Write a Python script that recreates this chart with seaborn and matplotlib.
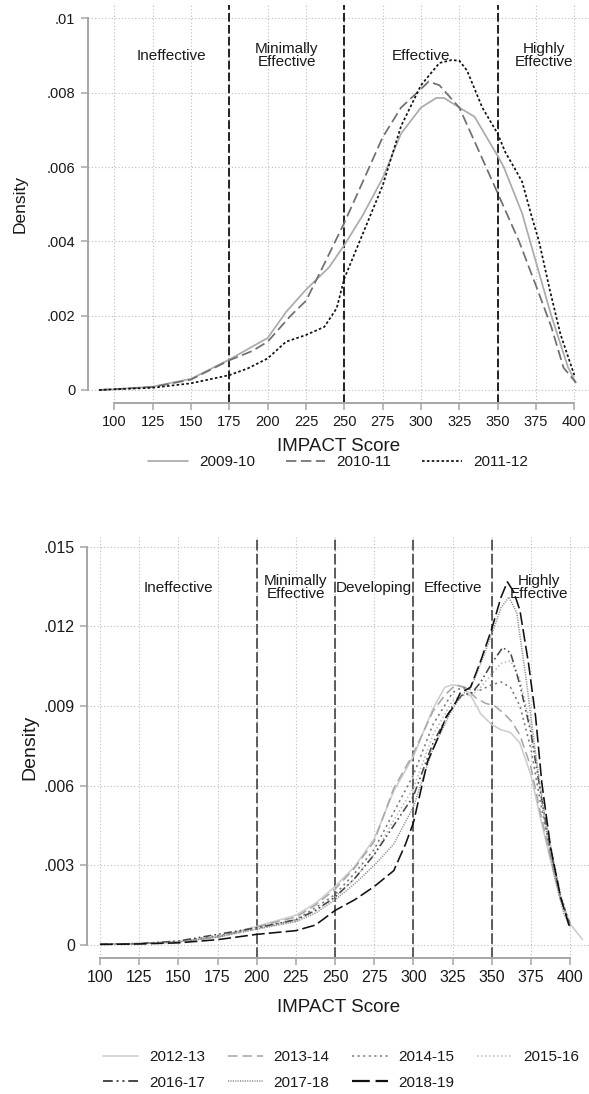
import numpy as np
import pandas as pd
import matplotlib
matplotlib.use("Agg")
import matplotlib.pyplot as plt
import seaborn as sns

# ---------------- data: top panel (2009-10 .. 2011-12) ----------------
top_years = ["2009-10", "2010-11", "2011-12"]
s_0910 = [90, 100, 125, 150, 175, 200, 212, 225, 240, 250, 262, 275, 287, 300, 310, 315, 325, 335, 350, 354, 366, 376, 385, 396, 401]
d_0910 = [0, .00002, .00009, .0003, .00082, .0014, .0021, .0027, .0033, .0039, .0047, .0057, .0069, .0076, .00786, .00786, .0076, .00735, .0063, .0060, .00475, .0033, .0020, .0006, .0002]
s_1011 = [90, 100, 125, 150, 175, 190, 200, 215, 225, 237, 250, 262, 275, 287, 300, 305, 312, 325, 337, 350, 364, 376, 385, 393, 401]
d_1011 = [0, .00002, .00008, .00028, .0008, .00105, .0013, .002, .0024, .0034, .0045, .0056, .0068, .0076, .0081, .0083, .0082, .0076, .0065, .0053, .0040, .0027, .0017, .0006, .0002]
s_1112 = [90, 100, 125, 150, 175, 187, 200, 212, 225, 237, 245, 250, 262, 275, 287, 300, 312, 320, 325, 330, 334, 340, 350, 355, 362, 366, 372, 377, 384, 391, 400]
d_1112 = [0, .00002, .00006, .00018, .0004, .00058, .00085, .0013, .00148, .0017, .0022, .003, .0042, .0055, .0071, .0082, .0088, .00888, .00886, .0086, .0082, .0076, .0069, .0064, .0059, .0056, .0047, .0040, .0027, .0015, .0004]

top_cuts = [175, 250, 350]
top_zone_labels = ["Ineffective", "Minimally\nEffective", "Effective", "Highly\nEffective"]
top_zone_x = [137.5, 212.5, 300, 380]
top_yticks = [0, .002, .004, .006, .008, .01]
top_ylabels = ["0", ".002", ".004", ".006", ".008", ".01"]

# ---------------- data: bottom panel (2012-13 .. 2018-19) ----------------
bot_years = ["2012-13", "2013-14", "2014-15", "2015-16", "2016-17", "2017-18", "2018-19"]
s_1213 = [100, 125, 150, 175, 200, 225, 237.5, 250, 262.5, 275, 287.5, 300, 312.5, 320, 325, 332, 337.5, 343, 350, 356, 362, 368, 375, 381, 387.5, 394, 400, 408]
d_1213 = [.00003, .00005, .00012, .0003, .0007, .00112, .00157, .0022, .00295, .0040, .0058, .0071, .0089, .0097, .0098, .0097, .0093, .0087, .0083, .0081, .0080, .0076, .0064, .0048, .0032, .0017, .0008, .0002]
s_1314 = [100, 125, 150, 175, 200, 225, 237.5, 250, 262.5, 275, 287.5, 300, 312.5, 320, 327, 333, 340, 346, 352, 358, 363, 368, 375, 381, 387.5, 394, 400]
d_1314 = [.00003, .00005, .00012, .0003, .00068, .00105, .0015, .0021, .0029, .0039, .0059, .0072, .0088, .0094, .0098, .0097, .0093, .0091, .0090, .0087, .0084, .0079, .0067, .0050, .0033, .0017, .0008]
s_1415 = [100, 125, 150, 175, 200, 225, 237.5, 250, 262.5, 275, 287.5, 300, 312.5, 325, 331, 337.5, 343, 350, 356, 362, 368, 375, 381, 387.5, 394, 400]
d_1415 = [.00003, .00005, .00013, .00035, .00062, .00095, .0014, .0019, .0027, .0036, .0050, .0064, .0083, .0095, .0097, .0096, .0096, .0098, .0099, .0097, .0090, .0074, .0054, .0035, .0018, .0008]
s_1516 = [100, 125, 150, 175, 200, 225, 237.5, 250, 262.5, 275, 287.5, 300, 312.5, 325, 331, 337.5, 343, 350, 356, 362, 368, 375, 381, 387.5, 394, 400]
d_1516 = [.00003, .00005, .00012, .0003, .0006, .0009, .0013, .0018, .0025, .0034, .0047, .0059, .0079, .0092, .0094, .0094, .0097, .0102, .0106, .0107, .0100, .0082, .0060, .0038, .0019, .0008]
s_1617 = [100, 125, 150, 175, 200, 225, 237.5, 250, 262.5, 275, 287.5, 300, 312.5, 325, 331, 337.5, 343, 350, 357, 362, 368, 375, 381, 387.5, 394, 400]
d_1617 = [.00003, .00005, .00015, .0004, .00065, .00095, .0013, .0018, .0025, .0034, .0045, .0056, .0076, .0090, .0094, .0095, .0099, .0106, .0112, .0110, .0098, .0080, .0058, .0036, .0018, .0007]
s_1718 = [100, 125, 150, 175, 200, 225, 237.5, 250, 262.5, 275, 287.5, 300, 312.5, 325, 331, 337.5, 343, 350, 356, 361, 366, 372, 378, 384, 390, 396, 400]
d_1718 = [.00003, .00005, .00012, .0003, .0006, .00088, .0012, .0017, .0023, .0030, .0038, .0052, .0074, .0089, .0094, .0098, .0106, .0117, .0127, .0131, .0125, .0100, .0072, .0046, .0026, .0012, .0007]
s_1819 = [100, 125, 150, 175, 200, 225, 237.5, 250, 262.5, 275, 287.5, 295, 300, 309, 315, 321, 326, 330, 336.5, 343, 350, 356, 360, 364, 368, 373.5, 378, 382, 387.5, 394, 400]
d_1819 = [.00002, .00004, .00008, .0002, .0004, .00054, .00075, .0013, .0017, .0022, .0028, .0038, .0046, .0069, .0077, .0086, .0090, .0095, .0097, .0107, .0119, .0131, .01367, .0133, .0126, .0106, .0086, .0061, .0037, .0018, .0006]

bot_cuts = [200, 250, 300, 350]
bot_zone_labels = ["Ineffective", "Minimally\nEffective", "Developing", "Effective", "Highly\nEffective"]
bot_zone_x = [150, 225, 275, 325, 380]
bot_yticks = [0, .003, .006, .009, .012, .015]
bot_ylabels = ["0", ".003", ".006", ".009", ".012", ".015"]

xticks = list(range(100, 401, 25))

# ---------------- frames ----------------
def frame(years, ss, ds):
    rows = []
    for y, s, d in zip(years, ss, ds):
        rows.append(pd.DataFrame({"year": y, "score": s, "density": d}))
    return pd.concat(rows, ignore_index=True)

df_top = frame(top_years, [s_0910, s_1011, s_1112], [d_0910, d_1011, d_1112])
df_bot = frame(bot_years, [s_1213, s_1314, s_1415, s_1516, s_1617, s_1718, s_1819],
               [d_1213, d_1314, d_1415, d_1516, d_1617, d_1718, d_1819])

# ---------------- style ----------------
sns.set_theme(style="white")
plt.rcParams["font.family"] = ["Liberation Sans", "DejaVu Sans"]
plt.rcParams["text.color"] = "#1a1a1a"

axis_col = "#a6a6a6"
grid_col = "#bdbdbd"

fig = plt.figure(figsize=(5.89, 10.94), dpi=100)
W, H = 589.0, 1094.0
ax1 = fig.add_axes([88 / W, 1 - 403 / H, (W - 88) / W, 398 / H])
ax2 = fig.add_axes([87.5 / W, 1 - 958 / H, (W - 87.5) / W, 421 / H])

top_pal = {"2009-10": "#ababab", "2010-11": "#6f6f6f", "2011-12": "#111111"}
top_dash = {"2009-10": "", "2010-11": (6, 2.6), "2011-12": (1.5, 1.3)}
bot_pal = {"2012-13": "#cdcdcd", "2013-14": "#a8a8a8", "2014-15": "#7a7a7a", "2015-16": "#b8b8b8",
           "2016-17": "#474747", "2017-18": "#8c8c8c", "2018-19": "#111111"}
bot_dash = {"2012-13": "", "2013-14": (6, 3), "2014-15": (1.3, 2.2), "2015-16": (0.9, 1.6),
            "2016-17": (5, 2, 1, 2, 1, 2), "2017-18": (0.7, 0.8), "2018-19": (8, 2.6)}

sns.lineplot(data=df_top, x="score", y="density", hue="year", style="year",
             hue_order=top_years, style_order=top_years, palette=top_pal, dashes=top_dash,
             estimator=None, sort=False, lw=1.25, ax=ax1, zorder=3)
sns.lineplot(data=df_bot, x="score", y="density", hue="year", style="year",
             hue_order=bot_years, style_order=bot_years, palette=bot_pal, dashes=bot_dash,
             estimator=None, sort=False, lw=1.15, ax=ax2, zorder=3)
for line in ax2.get_lines():
    if line.get_label() == "2018-19":
        line.set_linewidth(1.6)
    if line.get_label() == "2016-17":
        line.set_linewidth(1.4)


def style_axes(ax, xlim, ylim, yticks, ylabels, cuts, cut_style, cut_color, cut_lw,
               zone_x, zone_labels, zone_y, tick_fs, ylab_fs, xlab_pad, ylab_pad):
    ax.set_xlim(*xlim)
    ax.set_ylim(*ylim)
    ax.set_xticks(xticks)
    ax.set_xticklabels([str(t) for t in xticks])
    ax.set_yticks(yticks)
    ax.set_yticklabels(ylabels)
    ax.grid(True, color=grid_col, linestyle=(0, (1, 2)), linewidth=0.8)
    ax.set_axisbelow(True)
    for sp in ["top", "right"]:
        ax.spines[sp].set_visible(False)
    for sp in ["left", "bottom"]:
        ax.spines[sp].set_color(axis_col)
        ax.spines[sp].set_linewidth(1.4)
    ax.spines["left"].set_bounds(yticks[0], yticks[-1])
    ax.spines["bottom"].set_bounds(xticks[0], xticks[-1])
    ax.tick_params(axis="both", which="major", length=5, width=1.1, color=axis_col,
                   labelsize=tick_fs, labelcolor="#1a1a1a", direction="out",
                   left=True, bottom=True, pad=4)
    for c in cuts:
        ax.axvline(c, color=cut_color, linestyle=cut_style, lw=cut_lw, zorder=2)
    for x, lab in zip(zone_x, zone_labels):
        ax.text(x, zone_y, lab, ha="center", va="center", fontsize=11, linespacing=0.9,
                color="#1a1a1a", zorder=4)
    ax.set_xlabel("IMPACT Score", fontsize=13.5, labelpad=xlab_pad, color="#1a1a1a")
    ax.set_ylabel("Density", fontsize=ylab_fs, labelpad=ylab_pad, color="#1a1a1a")


style_axes(ax1, (82.8, 409.6), (-0.00035, 0.01036), top_yticks, top_ylabels, top_cuts,
           (0, (4.8, 1.8)), "#111111", 1.3, top_zone_x, top_zone_labels, 0.009, 10.5, 12.5, 6, 14)
style_axes(ax2, (92.0, 412.1), (-0.00049, 0.01536), bot_yticks, bot_ylabels, bot_cuts,
           (0, (7.0, 2.2)), "#333333", 1.1, bot_zone_x, bot_zone_labels, 0.01345, 11.5, 14, 10, 4)

# legends
h1, l1 = ax1.get_legend_handles_labels()
ax1.get_legend().remove()
fig.legend(h1, l1, loc="center", bbox_to_anchor=(338 / W, 1 - 462 / H), ncol=3, frameon=False,
           fontsize=11, handlelength=2.6, handletextpad=0.75, columnspacing=2.0)

h2, l2 = ax2.get_legend_handles_labels()
ax2.get_legend().remove()
order = [0, 4, 1, 5, 2, 6, 3]
fig.legend([h2[i] for i in order], [l2[i] for i in order], loc="center",
           bbox_to_anchor=(341 / W, 1 - 1070 / H), ncol=4, frameon=False,
           fontsize=11, handlelength=2.3, handletextpad=0.7, columnspacing=1.5, labelspacing=0.75)

fig.savefig("out.png", dpi=100)
